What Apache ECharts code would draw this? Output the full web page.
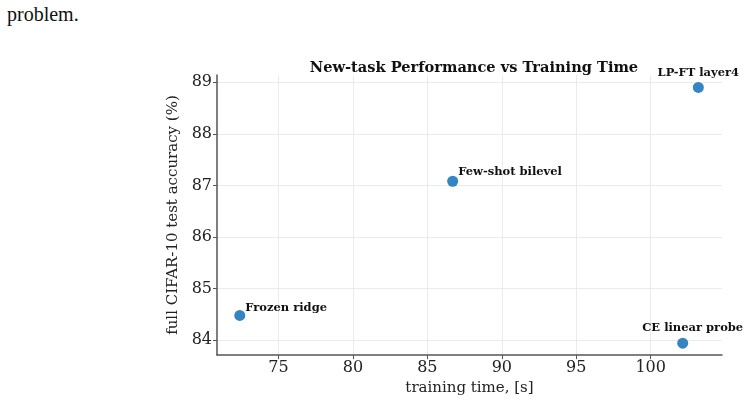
<!DOCTYPE html>
<html>
<head>
<meta charset="utf-8">
<script src="https://cdn.jsdelivr.net/npm/echarts@6/dist/echarts.min.js"></script>
<style>
  html, body { margin: 0; padding: 0; background: #fff; }
  #note { position: absolute; left: 7px; top: 4px; font-family: "Liberation Serif", serif; font-size: 20px; line-height: 1; color: #111; }
  #chart { width: 749px; height: 401px; }
</style>
</head>
<body>
<div id="note">problem.</div>
<div id="chart"></div>
<script>
// methods and their measurements
const methods = ['Frozen ridge', 'Few-shot bilevel', 'LP-FT layer4', 'CE linear probe'];
const trainTime = [72.4, 86.7, 103.2, 102.15];
const accuracy = [84.48, 87.08, 88.9, 83.94];

const xTicks = [75, 80, 85, 90, 95, 100];
const yTicks = [84, 85, 86, 87, 88, 89];

// where each annotation sits relative to its point
const labelOffsets = {
  'Frozen ridge': { position: 'right', offset: [-5, -7] },
  'Few-shot bilevel': { position: 'right', offset: [-5, -9] },
  'LP-FT layer4': { position: 'top', offset: [0, 2] },
  'CE linear probe': { position: 'top', offset: [10, 1] }
};

const chart = echarts.init(document.getElementById('chart'));

const pts = methods.map((m, i) => ({
  name: m,
  value: [trainTime[i], accuracy[i]],
  label: Object.assign({ show: true, formatter: '{b}' }, labelOffsets[m])
}));

const serif = '"DejaVu Serif", serif';

chart.setOption({
  animation: false,
  title: {
    text: 'New-task Performance vs Training Time',
    left: 469,
    textAlign: 'center',
    top: 56,
    textStyle: { fontFamily: serif, fontSize: 14.6, fontWeight: 'bold', color: '#111' }
  },
  grid: { left: 217, right: 27, top: 75, bottom: 45 },
  xAxis: {
    type: 'value',
    min: 70.87,
    max: 104.79,
    name: 'training time, [s]',
    nameLocation: 'middle',
    nameGap: 20,
    nameTextStyle: { fontFamily: serif, fontSize: 15, color: '#222' },
    axisLine: { show: true, lineStyle: { color: '#555', width: 1.5 } },
    axisTick: { show: true, customValues: xTicks, length: 4, lineStyle: { color: '#555' } },
    axisLabel: { customValues: xTicks, fontFamily: serif, fontSize: 16, color: '#222', margin: 5 },
    splitLine: { show: true, lineStyle: { color: '#ebebeb', width: 1 } }
  },
  yAxis: {
    type: 'value',
    min: 83.71,
    max: 89.14,
    name: 'full CIFAR-10 test accuracy (%)',
    nameLocation: 'middle',
    nameGap: 30,
    nameTextStyle: { fontFamily: serif, fontSize: 15, color: '#222' },
    axisLine: { show: true, lineStyle: { color: '#555', width: 1.5 } },
    axisTick: { show: true, customValues: yTicks, length: 4, lineStyle: { color: '#555' } },
    axisLabel: { customValues: yTicks, fontFamily: serif, fontSize: 16, color: '#222', margin: 5 },
    splitLine: { show: true, lineStyle: { color: '#ebebeb', width: 1 } }
  },
  series: [{
    type: 'scatter',
    symbolSize: 11,
    itemStyle: { color: '#3685c0', opacity: 1 },
    label: { fontFamily: serif, fontSize: 11.5, fontWeight: 'bold', color: '#111' },
    data: pts
  }]
});
</script>
</body>
</html>
